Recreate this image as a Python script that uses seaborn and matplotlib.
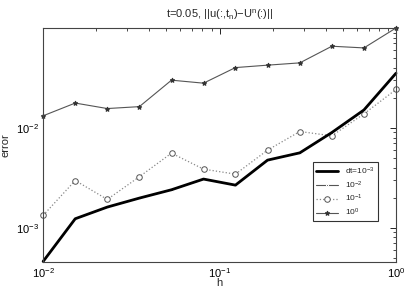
import numpy as np
import pandas as pd
import seaborn as sns
import matplotlib.pyplot as plt
from matplotlib.ticker import LogLocator, NullFormatter

sns.set_theme(style="white")
plt.rcParams['font.family'] = ['Liberation Sans', 'DejaVu Sans']
plt.rcParams['mathtext.fontset'] = 'custom'
plt.rcParams['mathtext.rm'] = 'Liberation Sans'
plt.rcParams['mathtext.it'] = 'Liberation Sans'

# mesh sizes (log spaced)
h = [0.01, 0.0152, 0.0231, 0.0351, 0.0534, 0.0811,
     0.123, 0.187, 0.285, 0.433, 0.658, 1.0]

err_dt3 = [4.6e-4, 1.23e-3, 1.61e-3, 1.98e-3, 2.40e-3, 3.07e-3,
           2.67e-3, 4.75e-3, 5.62e-3, 8.98e-3, 0.0151, 0.0352]
err_dt2 = [4.6e-4, 1.23e-3, 1.61e-3, 1.98e-3, 2.40e-3, 3.07e-3,
           2.67e-3, 4.75e-3, 5.62e-3, 8.98e-3, 0.0151, 0.0352]
err_dt1 = [1.33e-3, 2.97e-3, 1.92e-3, 3.24e-3, 5.58e-3, 3.86e-3,
           3.44e-3, 5.98e-3, 9.19e-3, 8.32e-3, 0.0138, 0.0242]
err_dt0 = [0.0132, 0.0177, 0.0156, 0.0163, 0.0300, 0.0280,
           0.0401, 0.0424, 0.0447, 0.0656, 0.0631, 0.0999]

labels = [r'dt=$10^{-3}$', r'$10^{-2}$', r'$10^{-1}$', r'$10^{0}$']

df = pd.DataFrame({
    'h': h * 4,
    'error': err_dt3 + err_dt2 + err_dt1 + err_dt0,
    'dt': np.repeat(labels, len(h)),
})

styles = {
    labels[0]: dict(color='black', linewidth=2.0, linestyle='-', marker=None),
    labels[1]: dict(color='#555555', linewidth=0.8, linestyle='-', marker='.',
                    markersize=3),
    labels[2]: dict(color='#888888', linewidth=0.9, linestyle=':', marker='o',
                    markersize=4, markerfacecolor='white',
                    markeredgecolor='#555555', markeredgewidth=0.7),
    labels[3]: dict(color='#555555', linewidth=0.8, linestyle='-', marker='*',
                    markersize=3.5, markeredgecolor='#333333',
                    markerfacecolor='#333333'),
}

fig = plt.figure(figsize=(4.07, 2.91), dpi=100)
ax = fig.add_axes([0.106, 0.1, 0.867, 0.804])

# draw bottom-up so the thick line sits on top of 10^-2
for lab in [labels[3], labels[2], labels[1], labels[0]]:
    sub = df[df['dt'] == lab]
    sns.lineplot(data=sub, x='h', y='error', ax=ax, label=lab,
                 clip_on=False, **styles[lab])

ax.set_xscale('log')
ax.set_yscale('log')
ax.set_xlim(1e-2, 1)
ax.set_ylim(4.55e-4, 0.1)
ax.set_xticks([1e-2, 1e-1, 1])
ax.set_yticks([1e-3, 1e-2])
ax.xaxis.set_minor_locator(LogLocator(base=10, subs=np.arange(2, 10)))
ax.yaxis.set_minor_locator(LogLocator(base=10, subs=np.arange(2, 10)))
ax.xaxis.set_minor_formatter(NullFormatter())
ax.yaxis.set_minor_formatter(NullFormatter())
ax.tick_params(which='both', direction='in', top=True, right=True,
               labelsize=8, colors='black', pad=3)
ax.tick_params(which='major', length=4, width=0.6)
ax.tick_params(which='minor', length=2, width=0.5)
for s in ax.spines.values():
    s.set_color('#444444')
    s.set_linewidth(0.8)

ax.set_xlabel('h', fontsize=8, labelpad=-1)
ax.set_ylabel('error', fontsize=8, labelpad=4)
ax.set_title(r't=0.05, ||u(:,t$_{\rm n}$)$-$U$^{\rm n}$(:)||', fontsize=8, pad=7)

handles, labs = ax.get_legend_handles_labels()
order = [labs.index(l) for l in labels]
leg = ax.legend([handles[i] for i in order], [labs[i] for i in order],
                loc='lower right', bbox_to_anchor=(0.96, 0.155),
                fontsize=6, frameon=True, fancybox=False, handlelength=2.6,
                borderpad=0.4, labelspacing=0.3)
leg.get_frame().set_edgecolor('black')
leg.get_frame().set_linewidth(0.8)

fig.savefig('out.png', dpi=100)
